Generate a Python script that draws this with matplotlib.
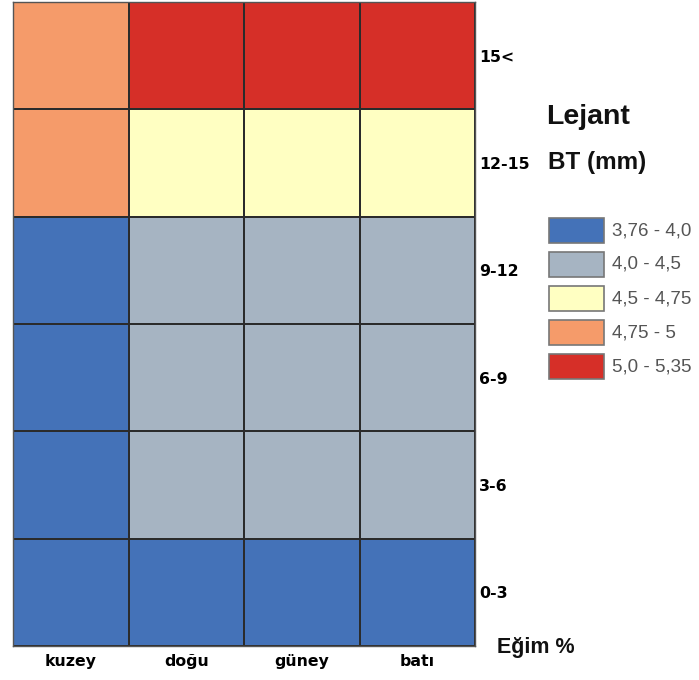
import matplotlib
matplotlib.use("Agg")
import matplotlib.pyplot as plt
import numpy as np
from matplotlib.colors import ListedColormap, BoundaryNorm
from matplotlib.patches import Rectangle

plt.rcParams['font.family'] = ['Liberation Sans', 'DejaVu Sans']

# Aspect directions (columns) and slope classes (rows, bottom to top)
directions = ["kuzey", "doğu", "güney", "batı"]
slope_classes = ["0-3", "3-6", "6-9", "9-12", "12-15", "15<"]

# BT (mm) class of each cell: 0..4 index into legend classes
bt_class = [
    [0, 0, 0, 0],  # 0-3
    [0, 1, 1, 1],  # 3-6
    [0, 1, 1, 1],  # 6-9
    [0, 1, 1, 1],  # 9-12
    [3, 2, 2, 2],  # 12-15
    [3, 4, 4, 4],  # 15<
]

legend_labels = ["3,76 - 4,0", "4,0 - 4,5", "4,5 - 4,75", "4,75 - 5", "5,0 - 5,35"]
class_colors = ["#4472b8", "#a6b4c2", "#ffffc2", "#f59b6a", "#d62f28"]

W, H = 699, 680
fig = plt.figure(figsize=(W / 100, H / 100), dpi=100)
ax = fig.add_axes([13 / W, (H - 646) / H, (475 - 13) / W, (646 - 2) / H])

cmap = ListedColormap(class_colors)
norm = BoundaryNorm(np.arange(-0.5, len(class_colors) + 0.5), cmap.N)
data = np.array(bt_class)
ax.pcolormesh(np.arange(len(directions) + 1), np.arange(len(slope_classes) + 1), data,
              cmap=cmap, norm=norm, edgecolors="#2b2b2b", linewidth=1.2)
ax.set_xlim(0, len(directions))
ax.set_ylim(0, len(slope_classes))

tick_font = dict(family="DejaVu Sans", fontsize=11.3, fontweight="bold")
ax.set_xticks(np.arange(len(directions)) + 0.5)
ax.set_xticklabels(directions, **tick_font)
ax.yaxis.tick_right()
ax.set_yticks(np.arange(len(slope_classes)) + 0.5)
ax.set_yticklabels(slope_classes, **tick_font)
ax.tick_params(length=0, pad=3)
ax.tick_params(axis="x", pad=6)
for s in ax.spines.values():
    s.set_color("#555555")
    s.set_linewidth(1.0)

# Axis caption
fig.text(497 / W, 1 - 648 / H, "Eğim %", fontsize=15.5, fontweight="bold", va="center", ha="left",
         color="#111111")

# Legend
fig.text(546 / W, 1 - 117 / H, "Lejant", fontsize=20.5, fontweight="bold", va="center", ha="left",
         color="#111111")
fig.text(548 / W, 1 - 162 / H, "BT (mm)", fontsize=17.5, fontweight="bold", va="center", ha="left",
         color="#111111")
for i, (lab, col) in enumerate(zip(legend_labels, class_colors)):
    y_top = 218 + i * 34
    fig.patches.append(Rectangle((549 / W, 1 - (y_top + 25) / H), 55 / W, 25 / H,
                                 transform=fig.transFigure, facecolor=col,
                                 edgecolor="#777777", linewidth=1.2))
    fig.text(612 / W, 1 - (y_top + 12.5) / H, lab, fontsize=13.5, va="center", ha="left",
             color="#555555")

fig.savefig("out.png", dpi=100)
